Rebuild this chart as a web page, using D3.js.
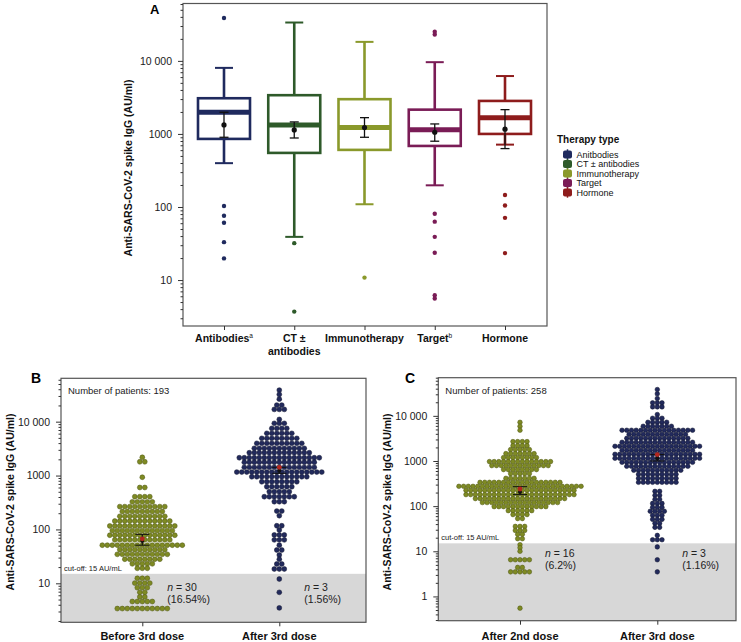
<!DOCTYPE html>
<html>
<head>
<meta charset="utf-8">
<script src="https://cdn.jsdelivr.net/npm/d3@7"></script>
<style>
  body { margin: 0; background: #fff; }
  svg { font-family: "Liberation Sans", Arial, sans-serif; }
</style>
</head>
<body>
<svg id="chart" width="741" height="642"></svg>
<script>
// ---- panel A data: anti-spike IgG by therapy type ----
var therapies = ["Antibodies", "CT ± antibodies", "Immunotherapy", "Target", "Hormone"];
var legendNames = ["Anitbodies", "CT ± antibodies", "Immunotherapy", "Target", "Hormone"];
var xLabelLines = [["Antibodies"], ["CT ±", "antibodies"], ["Immunotherapy"], ["Target"], ["Hormone"]];
var xLabelSup = ["a", "", "", "b", ""];
var therapyColors = ["#1f2a5e", "#2e5a2a", "#8a992b", "#7a1c56", "#8e1c1c"];
var whiskerLow = [398, 39, 109, 198, 714];
var q1 = [855, 550, 605, 685, 1000];
var median = [1980, 1330, 1220, 1145, 1660];
var q3 = [3080, 3390, 2990, 2150, 2830];
var whiskerHigh = [8020, 33500, 18200, 9600, 6200];
var meanValue = [1330, 1135, 1220, 1055, 1160];
var meanLow = [900, 880, 900, 795, 630];
var meanHigh = [1980, 1460, 1670, 1370, 2150];
var outliers = [
  [38700, 103, 76, 61, 33, 19.8],
  [32, 3.7],
  [10.8],
  [25000, 23000, 81, 63, 39, 23.6, 6.2, 5.6],
  [146, 105, 71, 23.4]
];
var ticksA = [10, 100, 1000, 10000];

// ---- panels B and C: dot rows as [value, number of patients] ----
var cutoff = 15;
var groupsB = ["Before 3rd dose", "After 3rd dose"];
var groupsC = ["After 2nd dose", "After 3rd dose"];
var rowsBBefore = [[2180,1],[1800,2],[930,1],[600,2],[405,4],[325,5],[265,10],[215,9],[175,10],[143,12],
  [116,14],[95,13],[78,14],[64,12],[51,17],[42,10],[34.5,11],[28,8],[23,5],[19,3],
  [12.4,3],[10.1,4],[8.3,3],[6.8,2],[5.6,2],[4.6,5],[3.4,11]];
var rowsBAfter = [[38500,1],[32000,1],[26200,1],[20300,2],[16900,3],[11000,1],[9300,3],[7500,4],[6070,6],
  [4900,8],[3960,10],[3200,11],[2650,13],[2140,17],[1760,15],[1420,15],[1160,18],[950,12],[767,8],[620,6],
  [500,5],[405,7],[327,3],[219,2],[180,1],[117,2],[97.5,1],[79,3],[64,3],[51,1],[41.5,2],[33.5,1],
  [27.9,1],[22.8,2],[18.4,3],[12,1],[6.8,1],[3.5,1]];
var rowsCSecond = [[7210,1],[5880,1],[4800,1],[2690,4],[2190,4],[1790,5],[1460,7],[1190,8],[970,14],
  [790,13],[645,8],[525,5],[414,7],[337,18],[275,27],[224,24],[180,24],[147,20],[120,17],[97.5,12],
  [79.5,6],[65,4],[53,2],[35.6,3],[29,3],[23.7,2],[19,2],[14,1],[12,1],[10,1],[6.5,5],[4.4,2],[3.5,5],[0.55,1]];
var rowsCThird = [[38300,1],[30800,1],[24200,1],[19400,3],[15800,3],[10700,1],[8860,3],[7210,5],[5880,7],
  [4800,16],[3910,13],[3190,14],[2600,16],[2120,19],[1730,16],[1410,19],[1150,19],[935,16],[763,14],
  [622,11],[507,9],[413,9],[337,9],[213,2],[174,2],[142,2],[115,3],[94,3],[77,4],[62.5,3],[51,3],
  [41.6,2],[33.9,2],[22.5,1],[18,3],[12.5,1],[6.5,1],[3.5,1]];
// mean (red), geometric centre (black) and its interval
var meanB = [67, 1420], centreB = [61, 1230], ciLowB = [51, 1100], ciHighB = [81, 1420];
var meanC = [240, 1390], centreC = [205, 1150], ciLowC = [180, 1000], ciHighC = [270, 1390];
var belowTextB = [["30", "(16.54%)"], ["3", "(1.56%)"]];
var belowTextC = [["16", "(6.2%)"], ["3", "(1.16%)"]];
var ticksB = [10, 100, 1000, 10000];
var ticksC = [1, 10, 100, 1000, 10000];
var dotColors = ["#7e8a24", "#222a5c"];
var dotStrokes = ["#4d5511", "#10142f"];

var svg = d3.select("#chart");
var yTitle = "Anti-SARS-CoV-2 spike IgG (AU/ml)";

function fmt(v) { return v >= 10000 ? d3.format(",")(v).replace(",", " ") : String(v); }

function minorTicks(scale) {
  var d = scale.domain(), out = [];
  for (var e = Math.floor(Math.log10(d[0])); e <= Math.ceil(Math.log10(d[1])); e++) {
    for (var k = 2; k <= 9; k++) {
      var v = k * Math.pow(10, e);
      if (v >= d[0] && v <= d[1]) out.push(v);
    }
  }
  return out;
}

function drawYAxis(scale, x0, majors) {
  var g = svg.append("g").attr("transform", "translate(" + x0 + ",0)");
  g.append("g")
    .call(d3.axisLeft(scale).tickValues(minorTicks(scale)).tickSize(2.5).tickFormat(""))
    .call(function(s) { s.select(".domain").remove(); });
  g.append("g")
    .call(d3.axisLeft(scale).tickValues(majors).tickSize(5).tickPadding(6).tickFormat(fmt))
    .call(function(s) { s.select(".domain").remove(); });
  g.selectAll("line").attr("stroke", "#333");
  g.selectAll("text").attr("font-family", "Liberation Sans, Arial, sans-serif")
    .attr("font-size", 10.5).attr("fill", "#1a1a1a");
}

function drawXTicks(scale, y0) {
  var g = svg.append("g").attr("transform", "translate(0," + y0 + ")")
    .call(d3.axisBottom(scale).tickSize(4).tickFormat(""));
  g.select(".domain").remove();
  g.selectAll("line").attr("stroke", "#333");
}

function drawYTitle(x, y) {
  svg.append("text")
    .attr("transform", "translate(" + x + "," + y + ") rotate(-90)")
    .attr("text-anchor", "middle").attr("dominant-baseline", "central")
    .attr("font-size", 10.5).attr("font-weight", "bold").attr("fill", "#111")
    .text(yTitle);
}

// ================= panel A =================
var A = {x0: 183, x1: 547, y0: 3.5, y1: 326};
var yA = d3.scaleLog().domain([2.35, 61000]).range([A.y1, A.y0]);
var xA = d3.scalePoint().domain(therapies).range([224, 505]);

svg.append("rect").attr("x", A.x0).attr("y", A.y0)
  .attr("width", A.x1 - A.x0).attr("height", A.y1 - A.y0)
  .attr("fill", "none").attr("stroke", "#555").attr("stroke-width", 1.2);

var boxW = 52, capW = 18;
therapies.forEach(function(t, i) {
  var cx = xA(t), col = therapyColors[i];
  var g = svg.append("g");
  // whiskers
  g.append("line").attr("x1", cx).attr("x2", cx).attr("y1", yA(q3[i])).attr("y2", yA(whiskerHigh[i]))
    .attr("stroke", col).attr("stroke-width", 2.6);
  g.append("line").attr("x1", cx).attr("x2", cx).attr("y1", yA(q1[i])).attr("y2", yA(whiskerLow[i]))
    .attr("stroke", col).attr("stroke-width", 2.6);
  [whiskerHigh[i], whiskerLow[i]].forEach(function(v) {
    g.append("line").attr("x1", cx - capW / 2).attr("x2", cx + capW / 2)
      .attr("y1", yA(v)).attr("y2", yA(v)).attr("stroke", col).attr("stroke-width", 2);
  });
  // box
  g.append("rect").attr("x", cx - boxW / 2).attr("y", yA(q3[i]))
    .attr("width", boxW).attr("height", yA(q1[i]) - yA(q3[i]))
    .attr("fill", "#fff").attr("stroke", col).attr("stroke-width", 2.6);
  g.append("line").attr("x1", cx - boxW / 2).attr("x2", cx + boxW / 2)
    .attr("y1", yA(median[i])).attr("y2", yA(median[i]))
    .attr("stroke", col).attr("stroke-width", 5);
  // outliers
  g.selectAll("circle.out").data(outliers[i]).enter().append("circle")
    .attr("cx", cx).attr("cy", function(d) { return yA(d); }).attr("r", 2.2).attr("fill", col);
  // mean with interval
  g.append("line").attr("x1", cx).attr("x2", cx).attr("y1", yA(meanLow[i])).attr("y2", yA(meanHigh[i]))
    .attr("stroke", "#111").attr("stroke-width", 1.3);
  [meanLow[i], meanHigh[i]].forEach(function(v) {
    g.append("line").attr("x1", cx - 4.5).attr("x2", cx + 4.5)
      .attr("y1", yA(v)).attr("y2", yA(v)).attr("stroke", "#111").attr("stroke-width", 1.3);
  });
  g.append("circle").attr("cx", cx).attr("cy", yA(meanValue[i])).attr("r", 2.6).attr("fill", "#111");
});

drawYAxis(yA, A.x0, ticksA);
drawXTicks(xA, A.y1);
drawYTitle(128, 168);

// category labels
therapies.forEach(function(t, i) {
  var txt = svg.append("text").attr("x", xA(t)).attr("y", 342)
    .attr("text-anchor", "middle").attr("font-size", 10.5).attr("font-weight", "bold").attr("fill", "#111");
  xLabelLines[i].forEach(function(line, j) {
    txt.append("tspan").attr("x", xA(t)).attr("dy", j === 0 ? 0 : 12.5).text(line);
  });
  if (xLabelSup[i]) {
    txt.append("tspan").attr("dy", -4).attr("font-size", 6.5).attr("font-weight", "normal").text(xLabelSup[i]);
  }
});

svg.append("text").attr("x", 150).attr("y", 14).attr("font-size", 13)
  .attr("font-weight", "bold").text("A");

// legend
var lg = svg.append("g");
lg.append("text").attr("x", 557).attr("y", 143).attr("font-size", 10)
  .attr("font-weight", "bold").attr("fill", "#111").text("Therapy type");
legendNames.forEach(function(n, i) {
  var ly = 154.5 + i * 9.5;
  lg.append("line").attr("x1", 567.5).attr("x2", 567.5).attr("y1", ly - 5.2).attr("y2", ly + 5.2)
    .attr("stroke", therapyColors[i]).attr("stroke-width", 1.5);
  lg.append("rect").attr("x", 563).attr("y", ly - 4).attr("width", 9).attr("height", 8)
    .attr("rx", 2).attr("fill", therapyColors[i]);
  lg.append("text").attr("x", 576.5).attr("y", ly).attr("dominant-baseline", "central")
    .attr("font-size", 9).attr("fill", "#111").text(n);
});

// ================= panels B and C =================
function drawSwarmPanel(cfg) {
  var y = d3.scaleLog().domain(cfg.domain).range([cfg.y1, cfg.y0]);
  var x = d3.scalePoint().domain(cfg.groups).range(cfg.centers);

  svg.append("rect").attr("x", cfg.x0).attr("y", y(cutoff))
    .attr("width", cfg.x1 - cfg.x0).attr("height", cfg.y1 - y(cutoff)).attr("fill", "#d7d7d7");

  cfg.rows.forEach(function(rows, gi) {
    var cx = x(cfg.groups[gi]);
    var pts = [];
    rows.forEach(function(r) {
      for (var k = 0; k < r[1]; k++) {
        pts.push({x: cx + (k - (r[1] - 1) / 2) * cfg.step, y: y(r[0])});
      }
    });
    svg.append("g").selectAll("circle").data(pts).enter().append("circle")
      .attr("cx", function(d) { return d.x; }).attr("cy", function(d) { return d.y; })
      .attr("r", cfg.r).attr("fill", dotColors[gi])
      .attr("stroke", dotStrokes[gi]).attr("stroke-width", 0.5);

    // centre marker
    var mg = svg.append("g");
    mg.append("line").attr("x1", cx).attr("x2", cx)
      .attr("y1", y(cfg.ciLow[gi])).attr("y2", y(cfg.ciHigh[gi])).attr("stroke", "#111").attr("stroke-width", 1.2);
    [cfg.ciLow[gi], cfg.ciHigh[gi]].forEach(function(v) {
      mg.append("line").attr("x1", cx - 7).attr("x2", cx + 7).attr("y1", y(v)).attr("y2", y(v))
        .attr("stroke", "#111").attr("stroke-width", 1);
    });
    mg.append("circle").attr("cx", cx).attr("cy", y(cfg.centre[gi])).attr("r", 2).attr("fill", "#111");
    mg.append("circle").attr("cx", cx).attr("cy", y(cfg.mean[gi])).attr("r", 2.4).attr("fill", "#b3261e");

    // n below cut-off
    var t = svg.append("text").attr("x", cx + 25).attr("y", y(cfg.textAt)).attr("font-size", 10.5).attr("fill", "#222");
    t.append("tspan").attr("font-style", "italic").text("n");
    t.append("tspan").text(" = " + cfg.below[gi][0]);
    svg.append("text").attr("x", cx + 25).attr("y", y(cfg.textAt) + 12).attr("font-size", 10.5)
      .attr("fill", "#222").text(cfg.below[gi][1]);

    svg.append("text").attr("x", cx).attr("y", 640).attr("text-anchor", "middle")
      .attr("font-size", 11).attr("font-weight", "bold").attr("fill", "#111").text(cfg.groups[gi]);
  });

  svg.append("rect").attr("x", cfg.x0).attr("y", cfg.y0)
    .attr("width", cfg.x1 - cfg.x0).attr("height", cfg.y1 - cfg.y0)
    .attr("fill", "none").attr("stroke", "#555").attr("stroke-width", 1.2);

  drawYAxis(y, cfg.x0, cfg.ticks);
  drawXTicks(x, cfg.y1);
  drawYTitle(cfg.titleX, 502);

  svg.append("text").attr("x", cfg.x0 + 7).attr("y", cfg.y0 + 16).attr("font-size", 9.5)
    .attr("fill", "#222").text("Number of patients: " + cfg.patients);
  svg.append("text").attr("x", cfg.x0 + 3).attr("y", y(cutoff) - 3).attr("font-size", 7.5)
    .attr("fill", "#222").text("cut-off: 15 AU/mL");
  svg.append("text").attr("x", cfg.letterX).attr("y", 383).attr("font-size", 14)
    .attr("font-weight", "bold").text(cfg.letter);
}

drawSwarmPanel({
  letter: "B", letterX: 31, titleX: 9.5, patients: 193,
  x0: 61, x1: 366, y0: 378.3, y1: 622.3, domain: [1.89, 63800],
  groups: groupsB, centers: [142.3, 279.3], rows: [rowsBBefore, rowsBAfter],
  step: 5, r: 2.45, ticks: ticksB, textAt: 7.2,
  mean: meanB, centre: centreB, ciLow: ciLowB, ciHigh: ciHighB, below: belowTextB
});

drawSwarmPanel({
  letter: "C", letterX: 405, titleX: 387, patients: 258,
  x0: 438.3, x1: 736, y0: 377.7, y1: 620.7, domain: [0.29, 70000],
  groups: groupsC, centers: [520, 657.3], rows: [rowsCSecond, rowsCThird],
  step: 4.7, r: 2.3, ticks: ticksC, textAt: 7.6,
  mean: meanC, centre: centreC, ciLow: ciLowC, ciHigh: ciHighC, below: belowTextC
});
</script>
</body>
</html>
